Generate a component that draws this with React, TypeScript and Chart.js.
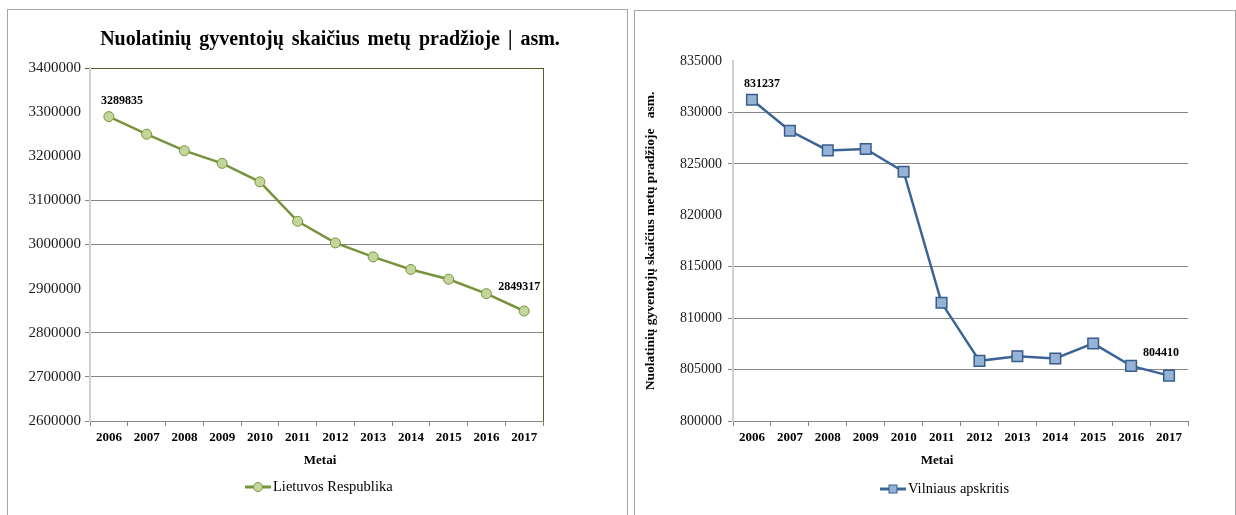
import React, { useEffect, useRef } from "react";
import { Chart, registerables } from "chart.js";

Chart.register(...registerables);

// ---------- data ----------
const years = ["2006", "2007", "2008", "2009", "2010", "2011", "2012", "2013", "2014", "2015", "2016", "2017"];
const lietuvosRespublika = [3289835, 3249983, 3212605, 3183856, 3141976, 3052588, 3003641, 2971905, 2943472, 2921262, 2888558, 2849317];
const vilniausApskritis = [831237, 828220, 826310, 826450, 824230, 811490, 805850, 806300, 806080, 807540, 805360, 804410];

const leftYMin = 2600000;
const leftYMax = 3400000;
const leftYStep = 100000;
const leftGridShown = [3100000, 3000000, 2800000, 2700000, 2600000];

const rightYMin = 800000;
const rightYMax = 835000;
const rightYStep = 5000;
const rightGridShown = [830000, 825000, 815000, 810000, 805000, 800000];

const leftTitle = "Nuolatinių gyventojų skaičius metų pradžioje | asm.";
const rightYTitle = "Nuolatinių gyventojų skaičius metų pradžioje   asm.";
const xTitle = "Metai";
const leftSeriesName = "Lietuvos Respublika";
const rightSeriesName = "Vilniaus apskritis";

// ---------- styles ----------
const FONT = '"Liberation Serif", "Times New Roman", serif';
const OLIVE = "#4f6228";
const GRID = "#868686";
const GREEN_LINE = "#77933c";
const GREEN_FILL = "#c3d69b";
const BLUE_LINE = "#3b6496";
const BLUE_FILL = "#95b3d7";
const BLUE_BORDER = "#385d8a";
const TRANSPARENT = "rgba(0,0,0,0)";

type TextItem = { text: string; x: number; y: number; font: string; color?: string; align?: CanvasTextAlign; wordSpacing?: string };
type LabelItem = { index: number; dx: number; dy: number };
type LegendCfg = { x: number; y: number; text: string; marker: "circle" | "rect" };

function makeOverlay(texts: TextItem[], labels: LabelItem[], legend: LegendCfg) {
  return {
    id: "overlay",
    afterDraw(chart: any) {
      const ctx: any = chart.ctx;
      const ds = chart.data.datasets[0];
      ctx.save();
      ctx.textBaseline = "middle";
      texts.forEach((t) => {
        ctx.font = t.font;
        ctx.fillStyle = t.color || "#000";
        ctx.textAlign = t.align || "center";
        if ("wordSpacing" in ctx) ctx.wordSpacing = t.wordSpacing || "0px";
        ctx.fillText(t.text, t.x, t.y);
      });
      if ("wordSpacing" in ctx) ctx.wordSpacing = "0px";
      // data labels
      const meta = chart.getDatasetMeta(0);
      ctx.font = `bold 12px ${FONT}`;
      ctx.fillStyle = "#000";
      ctx.textAlign = "center";
      labels.forEach((l) => {
        const el = meta.data[l.index];
        if (!el) return;
        ctx.fillText(String(ds.data[l.index]), el.x + l.dx, el.y + l.dy);
      });
      // legend
      const lw = 26;
      ctx.strokeStyle = ds.borderColor;
      ctx.lineWidth = 3;
      ctx.beginPath();
      ctx.moveTo(legend.x, legend.y);
      ctx.lineTo(legend.x + lw, legend.y);
      ctx.stroke();
      const cx = legend.x + lw / 2;
      ctx.fillStyle = ds.pointBackgroundColor;
      ctx.strokeStyle = ds.pointBorderColor;
      ctx.lineWidth = 1;
      if (legend.marker === "circle") {
        ctx.beginPath();
        ctx.arc(cx, legend.y, 4.5, 0, Math.PI * 2);
        ctx.fill();
        ctx.stroke();
      } else {
        ctx.fillRect(cx - 4, legend.y - 4, 8, 8);
        ctx.strokeRect(cx - 4, legend.y - 4, 8, 8);
      }
      ctx.font = `14.5px ${FONT}`;
      ctx.fillStyle = "#000";
      ctx.textAlign = "left";
      ctx.fillText(legend.text, legend.x + lw + 2, legend.y);
      ctx.restore();
    },
  };
}

function gridColor(shown: number[], topValue: number | null) {
  return (c: any) => {
    const v = c.tick ? c.tick.value : null;
    if (v === null) return TRANSPARENT;
    if (topValue !== null && v === topValue) return OLIVE;
    return shown.includes(v) ? GRID : TRANSPARENT;
  };
}

export default function App() {
  const leftRef = useRef<HTMLCanvasElement | null>(null);
  const rightRef = useRef<HTMLCanvasElement | null>(null);

  useEffect(() => {
    if (!leftRef.current || !rightRef.current) return;

    const left = new Chart(leftRef.current, {
      type: "line",
      data: {
        labels: years,
        datasets: [
          {
            label: leftSeriesName,
            data: lietuvosRespublika,
            borderColor: GREEN_LINE,
            borderWidth: 2.5,
            pointBackgroundColor: GREEN_FILL,
            pointBorderColor: GREEN_LINE,
            pointBorderWidth: 1,
            pointRadius: 5,
            pointStyle: "circle",
            tension: 0,
          } as any,
        ],
      },
      options: {
        responsive: false,
        animation: false,
        devicePixelRatio: 1,
        layout: { padding: { top: 58, right: 84, bottom: 45, left: 0 } },
        plugins: { legend: { display: false }, tooltip: { enabled: false }, title: { display: false } },
        scales: {
          x: {
            offset: true,
            grid: {
              offset: true,
              drawOnChartArea: true,
              color: (c: any) => (c.tick ? TRANSPARENT : OLIVE),
              tickColor: GRID,
              tickLength: 5,
            },
            border: { display: true, color: GRID, width: 1 },
            ticks: { font: { family: FONT, size: 13, weight: "bold" }, color: "#000", padding: 4, maxRotation: 0, autoSkip: false },
            afterFit: (s: any) => {
              s.height = 49;
            },
          },
          y: {
            min: leftYMin,
            max: leftYMax,
            ticks: {
              stepSize: leftYStep,
              callback: (v: any) => String(v),
              font: { family: FONT, size: 15 },
              color: "#1a1a1a",
              padding: 4,
            },
            grid: { color: gridColor(leftGridShown, leftYMax), tickLength: 5 },
            border: { display: true, color: "#cfcfcf", width: 2 },
            afterFit: (s: any) => {
              s.width = 82;
            },
          },
        },
      } as any,
      plugins: [
        makeOverlay(
          [
            { text: leftTitle, x: 322, y: 30, font: `bold 20px ${FONT}`, wordSpacing: "3px" },
            { text: xTitle, x: 312, y: 451, font: `bold 13px ${FONT}` },
          ],
          [
            { index: 0, dx: 13, dy: -16 },
            { index: lietuvosRespublika.length - 1, dx: -5, dy: -24 },
          ],
          { x: 237, y: 477, text: leftSeriesName, marker: "circle" }
        ),
      ],
    });

    const right = new Chart(rightRef.current, {
      type: "line",
      data: {
        labels: years,
        datasets: [
          {
            label: rightSeriesName,
            data: vilniausApskritis,
            borderColor: BLUE_LINE,
            borderWidth: 2.5,
            pointBackgroundColor: BLUE_FILL,
            pointBorderColor: BLUE_BORDER,
            pointBorderWidth: 1.5,
            pointRadius: 7.5,
            pointStyle: "rect",
            tension: 0,
          } as any,
        ],
      },
      options: {
        responsive: false,
        animation: false,
        devicePixelRatio: 1,
        layout: { padding: { top: 50, right: 47, bottom: 45, left: 0 } },
        plugins: { legend: { display: false }, tooltip: { enabled: false }, title: { display: false } },
        scales: {
          x: {
            offset: true,
            grid: {
              offset: true,
              drawOnChartArea: false,
              tickColor: GRID,
              tickLength: 5,
            },
            border: { display: true, color: GRID, width: 1 },
            ticks: { font: { family: FONT, size: 13, weight: "bold" }, color: "#000", padding: 4, maxRotation: 0, autoSkip: false },
            afterFit: (s: any) => {
              s.height = 49;
            },
          },
          y: {
            min: rightYMin,
            max: rightYMax,
            title: {
              display: true,
              text: rightYTitle,
              font: { family: FONT, size: 13.5, weight: "bold" },
              color: "#000",
              padding: { top: 7, bottom: 0 },
            },
            ticks: {
              stepSize: rightYStep,
              callback: (v: any) => String(v),
              font: { family: FONT, size: 14 },
              color: "#1a1a1a",
              padding: 6,
            },
            grid: { color: gridColor(rightGridShown, null), tickLength: 5 },
            border: { display: true, color: "#cfcfcf", width: 2 },
            afterFit: (s: any) => {
              s.width = 98;
            },
          },
        },
      } as any,
      plugins: [
        makeOverlay(
          [{ text: xTitle, x: 302, y: 450, font: `bold 13px ${FONT}` }],
          [
            { index: 0, dx: 10, dy: -16 },
            { index: vilniausApskritis.length - 1, dx: -8, dy: -23 },
          ],
          { x: 245, y: 478, text: rightSeriesName, marker: "rect" }
        ),
      ],
    });

    return () => {
      left.destroy();
      right.destroy();
    };
  }, []);

  return (
    <div style={{ position: "absolute", left: 0, top: 0, width: 1236, height: 515, overflow: "hidden", background: "#fff" }}>
      <div style={{ position: "absolute", left: 7, top: 9, width: 619, height: 505, border: "1px solid #a6a6a6" }}>
        <canvas ref={leftRef} width={619} height={505} style={{ display: "block" }} />
      </div>
      <div style={{ position: "absolute", left: 634, top: 10, width: 600, height: 504, border: "1px solid #a6a6a6" }}>
        <canvas ref={rightRef} width={600} height={504} style={{ display: "block" }} />
      </div>
    </div>
  );
}
